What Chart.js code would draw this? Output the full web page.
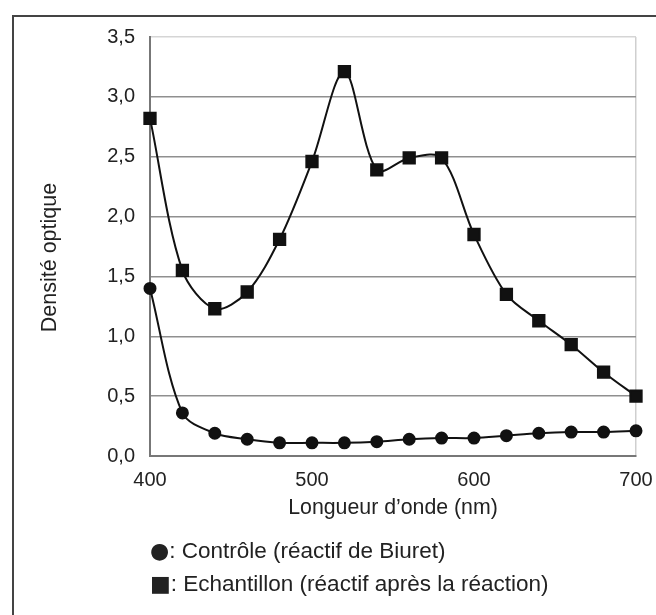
<!DOCTYPE html>
<html>
<head>
<meta charset="utf-8">
<script src="https://cdn.jsdelivr.net/npm/chart.js@4/dist/chart.umd.min.js"></script>
<style>
  html, body { margin: 0; padding: 0; background: #fff; overflow: hidden; }
  body { width: 656px; height: 615px; position: relative; font-family: "Liberation Sans", Arial, sans-serif; color: #222; }
  #frame { position: absolute; left: 12px; top: 15px; width: 650px; height: 610px; border-left: 2px solid #444; border-top: 2px solid #444; }
  #wrap { position: absolute; left: 0; top: 0; width: 656px; height: 615px; }
  #legend { position: absolute; left: 150px; top: 534px; font-size: 22.5px; line-height: 33px; white-space: nowrap; }
  #legend .sym { font-family: "DejaVu Sans", sans-serif; font-size: 22px; }
</style>
</head>
<body>
<div id="frame"></div>
<div id="wrap"><canvas id="myChart" width="656" height="615"></canvas></div>
<div id="legend">
  <div><span class="sym">●</span>: Contrôle (réactif de Biuret)</div>
  <div><span class="sym">■</span>: Echantillon (réactif après la réaction)</div>
</div>
<script>
// 
// Données
// 
var longueurs = [400, 420, 440, 460, 480, 500, 520, 540, 560, 580, 600, 620, 640, 660, 680, 700]
var controle = [1.40, 0.36, 0.19, 0.14, 0.11, 0.11, 0.11, 0.12, 0.14, 0.15, 0.15, 0.17, 0.19, 0.20, 0.20, 0.21]
var echantillon = [2.82, 1.55, 1.23, 1.37, 1.81, 2.46, 3.21, 2.39, 2.49, 2.49, 1.85, 1.35, 1.13, 0.93, 0.70, 0.50]
var yTicks = [0, 0.5, 1, 1.5, 2, 2.5, 3, 3.5]
var xTitle = "Longueur d\u2019onde (nm)"
var yTitle = "Densité optique"

var police = '"Liberation Sans", Arial, sans-serif'

function points(ys) {
    return longueurs.map((x, i) => ({ x: x, y: ys[i] }))
}

// titre de l'axe vertical, un peu sous le centre comme sur la figure
var titreY = {
    id: 'titreY',
    afterDraw(chart) {
        var ctx = chart.ctx
        var area = chart.chartArea
        ctx.save()
        ctx.translate(50, (area.top + area.bottom) / 2 + 11)
        ctx.rotate(-Math.PI / 2)
        ctx.font = '21.5px ' + police
        ctx.fillStyle = '#222'
        ctx.textAlign = 'center'
        ctx.textBaseline = 'middle'
        ctx.fillText(yTitle, 0, 0)
        ctx.restore()
    }
}

var canvas = document.getElementById("myChart")
var myChart = new Chart(canvas, {
    type: 'line',
    data: {
        datasets: [{
            label: 'Contrôle',
            data: points(controle),
            borderColor: '#111',
            backgroundColor: '#111',
            borderWidth: 2,
            pointStyle: 'circle',
            pointRadius: 5.5,
            tension: 0.32,
            clip: false
        },
        {
            label: 'Echantillon',
            data: points(echantillon),
            borderColor: '#111',
            backgroundColor: '#111',
            borderWidth: 2,
            pointStyle: 'rect',
            pointRadius: 8,
            tension: 0.32,
            clip: false
        }]
    },
    options: {
        responsive: false,
        animation: false,
        layout: { padding: { top: 37, right: 20, left: 0, bottom: 94 } },
        plugins: { legend: { display: false }, tooltip: { enabled: false } },
        scales: {
            x: {
                type: 'linear',
                min: 400,
                max: 700,
                afterFit: (s) => { s.height = 65; s.paddingLeft = 0; s.paddingRight = 0 },
                ticks: { stepSize: 100, padding: 12, color: '#222', font: { family: police, size: 20 } },
                grid: {
                    drawTicks: false,
                    lineWidth: 1.5,
                    color: (c) => c.tick && c.tick.value === 700 ? '#cfcfcf' : 'rgba(0,0,0,0)'
                },
                border: { color: '#777', width: 2 },
                title: { display: true, text: xTitle, color: '#222', padding: 0, font: { family: police, size: 21.3 } }
            },
            y: {
                min: 0,
                max: 3.5,
                afterFit: (s) => { s.width = 150 },
                afterBuildTicks: (s) => { s.ticks = yTicks.map(v => ({ value: v })) },
                ticks: {
                    padding: 15,
                    color: '#222',
                    font: { family: police, size: 20 },
                    callback: (v) => v.toFixed(1).replace('.', ',')
                },
                grid: {
                    drawTicks: false,
                    lineWidth: 1.5,
                    color: (c) => c.tick && c.tick.value === 3.5 ? '#d5d5d5' : '#8f8f8f'
                },
                border: { color: '#777', width: 2 }
            }
        }
    },
    plugins: [titreY]
});
</script>
</body>
</html>
